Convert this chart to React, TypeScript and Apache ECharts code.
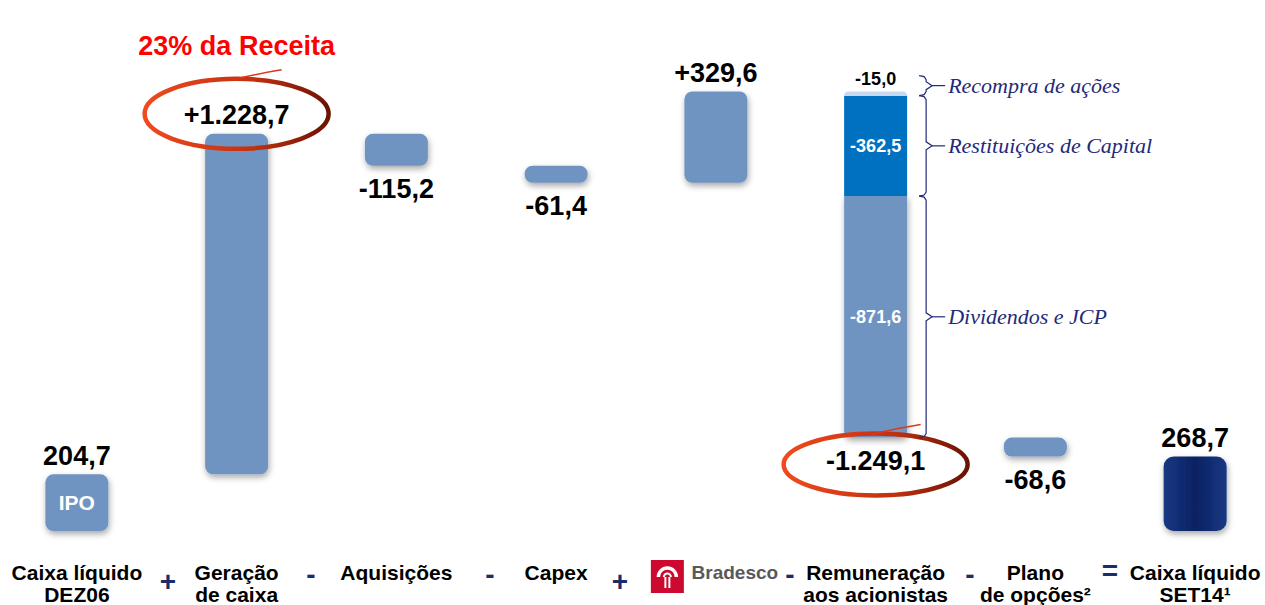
import React, { useEffect, useRef } from "react";
import * as echarts from "echarts";

// ---------- data ----------
const categories = [
  "Caixa líquido\nDEZ06",
  "Geração\nde caixa",
  "Aquisições",
  "Capex",
  "Bradesco",
  "Remuneração\naos acionistas",
  "Plano\nde opções²",
  "Caixa líquido\nSET14¹",
];
const startValue = 204.7;
const changes = [1228.7, -115.2, -61.4, 329.6, -1249.1, -68.6];
const endValue = 268.7;
const remuneracaoParts = [-871.6, -362.5, -15.0];
const remuneracaoNames = ["Dividendos e JCP", "Restituições de Capital", "Recompra de ações"];
const operators = ["+", "-", "-", "+", "-", "-", "="];
const startNote = "IPO";
const highlightNote = "23% da Receita";
const highlightIndex = 1;
const circledIndexes = [1, 5];
const splitIndex = 5;

// ---------- helpers ----------
function fmt(v: number, signed: boolean): string {
  const abs = Math.abs(v);
  const [i, d] = abs.toFixed(1).split(".");
  const ip = i.replace(/\B(?=(\d{3})+(?!\d))/g, ".");
  const s = v < 0 ? "-" : signed ? "+" : "";
  return s + ip + "," + d;
}

const FONT = '"Liberation Sans", Arial, Helvetica, sans-serif';
const STEEL = "#7094C2";
const BLUE = "#0070C0";
const LIGHT = "#C6D9F1";
const NAVY = "#1B2B6B";
const OFFSET_X = -3; // chart div left offset on the page
const shadow = { shadowBlur: 6, shadowColor: "rgba(0,0,0,0.35)", shadowOffsetX: 1, shadowOffsetY: 3 };
const valueLabel = { color: "#000", fontSize: 27, fontWeight: "bold", fontFamily: FONT, opacity: 1 };

// waterfall geometry from the data
const n = categories.length;
const baseData: any[] = new Array(n).fill("-");
const mainData: any[] = new Array(n).fill("-");
const labelPoints: any[] = [];
const levels: number[] = [startValue];
let running = startValue;
mainData[0] = {
  value: startValue,
  itemStyle: { color: STEEL, borderRadius: 8, ...shadow },
  label: { show: true, position: "inside", formatter: startNote, color: "#fff", fontSize: 21, fontWeight: "bold", fontFamily: FONT },
};
labelPoints.push({ value: [0, startValue], label: { ...valueLabel, position: "top", distance: 5, formatter: fmt(startValue, false) } });
changes.forEach((c, k) => {
  const idx = k + 1;
  const next = running + c;
  const low = Math.min(running, next);
  const high = Math.max(running, next);
  baseData[idx] = low;
  if (idx !== splitIndex) {
    mainData[idx] = { value: Math.abs(c), itemStyle: { color: STEEL, borderRadius: 8, ...shadow } };
  }
  labelPoints.push(
    c >= 0
      ? { value: [idx, high], label: { ...valueLabel, position: "top", distance: 5, formatter: fmt(c, true) } }
      : { value: [idx, low], label: { ...valueLabel, position: "bottom", distance: 10, formatter: fmt(c, true) } }
  );
  running = next;
  levels.push(running);
});
mainData[n - 1] = {
  value: endValue,
  itemStyle: {
    borderRadius: 10,
    ...shadow,
    color: new echarts.graphic.LinearGradient(0, 0, 1, 0, [
      { offset: 0, color: "#173882" },
      { offset: 0.5, color: "#0B2262" },
      { offset: 1, color: "#173882" },
    ]),
  },
};
labelPoints.push({ value: [n - 1, endValue], label: { ...valueLabel, position: "top", distance: 5, formatter: fmt(endValue, false) } });

const partColors = [STEEL, BLUE, LIGHT];
const partRadius: any[] = [[0, 0, 6, 6], 0, [5, 5, 0, 0]];
const partLabelColors = ["#fff", "#fff", "#000"];
const partSeries = remuneracaoParts.map((p, j) => {
  const data: any[] = new Array(n).fill("-");
  data[splitIndex] = Math.abs(p);
  return {
    type: "bar",
    name: remuneracaoNames[j],
    stack: "w",
    barWidth: 63,
    data,
    itemStyle: { color: partColors[j], borderRadius: partRadius[j], ...(j === 0 ? shadow : {}) },
    label: {
      show: true,
      position: j === 2 ? "top" : "inside",
      distance: 3,
      formatter: fmt(p, false),
      color: partLabelColors[j],
      fontSize: 18,
      fontWeight: "bold",
      fontFamily: FONT,
    },
  };
});

export default function App() {
  const ref = useRef<HTMLDivElement>(null);
  useEffect(() => {
    const chart = echarts.init(ref.current!, null, { renderer: "svg" });
    const option: any = {
      animation: false,
      grid: { left: 0, right: 0, top: 60, bottom: 69 },
      xAxis: {
        type: "category",
        data: categories,
        axisLine: { show: false },
        axisTick: { show: false },
        axisLabel: {
          interval: 0,
          margin: 30,
          fontSize: 21,
          lineHeight: 22,
          fontWeight: "bold",
          color: "#000",
          fontFamily: FONT,
          formatter: (v: string) => (v === "Bradesco" ? "{b|Bradesco}" : v),
          rich: {
            b: { fontSize: 19, fontWeight: "bold", color: "#58595B", fontFamily: FONT, padding: [0, 0, 0, 38] },
          },
        },
      },
      yAxis: { type: "value", min: 0, max: 1700, show: false, splitLine: { show: false } },
      series: [
        { type: "bar", stack: "w", barWidth: 63, data: baseData, itemStyle: { color: "transparent" }, silent: true },
        { type: "bar", stack: "w", barWidth: 63, data: mainData },
        ...partSeries,
        {
          type: "scatter",
          symbolSize: 0.1,
          itemStyle: { color: "transparent", opacity: 1 },
          data: labelPoints,
          z: 20,
          label: { show: true, ...valueLabel },
        },
      ],
    };
    chart.setOption(option);

    const P = (i: number, v: number) => chart.convertToPixel({ gridIndex: 0 }, [i, v]) as number[];
    const g: any[] = [];
    const swoosh = () =>
      new echarts.graphic.LinearGradient(0, 0, 1, 0, [
        { offset: 0, color: "#F04A1E" },
        { offset: 0.6, color: "#C2300F" },
        { offset: 1, color: "#6A1304" },
      ]);

    // highlight note and circled labels
    const hiTop = P(highlightIndex, levels[highlightIndex])[1];
    const hiX = P(highlightIndex, 0)[0];
    g.push({
      type: "text",
      x: hiX,
      y: hiTop - 88,
      z: 100,
      style: { text: highlightNote, fill: "#FF0000", font: `bold 27px ${FONT}`, align: "center", verticalAlign: "middle" },
    });
    circledIndexes.forEach((ci) => {
      const c = changes[ci - 1];
      const [cx, py] = P(ci, levels[ci]);
      const cy = c >= 0 ? py - 20 : py + 27;
      const rx = 92;
      const ry = c >= 0 ? 35 : 31;
      g.push({
        type: "ellipse",
        z: 100,
        shape: { cx, cy, rx, ry },
        style: { fill: "none", stroke: swoosh(), lineWidth: 4.5 },
      });
      g.push({
        type: "bezierCurve",
        z: 100,
        shape: { x1: cx - 5, y1: cy - ry + 1, x2: cx + 45, y2: cy - ry - 9, cpx1: cx + 20, cpy1: cy - ry - 5 },
        style: { fill: "none", stroke: "#D8391A", lineWidth: 1.5 },
      });
    });

    // braces and annotations for the split bar
    const sx = P(splitIndex, 0)[0];
    const right = sx + 31.5;
    let acc = levels[splitIndex];
    remuneracaoParts.forEach((p, j) => {
      const bottomPx = P(splitIndex, acc)[1];
      acc += Math.abs(p);
      const topPx = P(splitIndex, acc)[1];
      let top = topPx;
      const bottom = bottomPx;
      if (bottom - top < 20) top = bottom - 20;
      const mid = (top + bottom) / 2;
      const hx = right + 12;
      const bx = right + 19;
      const tx = right + 25;
      g.push({
        type: "polyline",
        z: 100,
        shape: {
          points: [
            [hx, top],
            [bx - 2, top + 1],
            [bx, top + 4],
            [bx, mid - 4],
            [tx, mid],
            [bx, mid + 4],
            [bx, bottom - 4],
            [bx - 2, bottom - 1],
            [hx, bottom],
          ],
        },
        style: { fill: "none", stroke: "#1F2A7A", lineWidth: 1.2 },
      });
      g.push({
        type: "line",
        z: 100,
        shape: { x1: tx, y1: mid, x2: right + 38, y2: mid },
        style: { stroke: "#1F2A7A", lineWidth: 1.2 },
      });
      g.push({
        type: "text",
        z: 100,
        x: right + 41,
        y: mid,
        style: {
          text: remuneracaoNames[j],
          fill: "#1F2A7A",
          font: `italic 22px "Liberation Serif", "DejaVu Serif", serif`,
          align: "left",
          verticalAlign: "middle",
        },
      });
    });

    // operators between the category labels (page coordinates)
    const opX = [168, 311, 490, 620, 790, 970, 1110];
    const opY = [581, 574, 574, 581, 574, 574, 570];
    operators.forEach((o, k) => {
      g.push({
        type: "text",
        z: 100,
        x: opX[k] - OFFSET_X,
        y: opY[k],
        style: { text: o, fill: NAVY, font: `bold 28px ${FONT}`, align: "center", verticalAlign: "middle" },
      });
    });

    // Bradesco logo mark next to the axis label
    const bIdx = categories.indexOf("Bradesco");
    const bx0 = P(bIdx, 0)[0] - 65;
    const by0 = 560;
    const lc = bx0 + 16.5;
    g.push({ type: "rect", z: 100, shape: { x: bx0, y: by0, width: 33, height: 33 }, style: { fill: "#CC092F" } });
    g.push({
      type: "arc",
      z: 101,
      shape: { cx: lc, cy: by0 + 17, r: 9, startAngle: Math.PI, endAngle: 2 * Math.PI },
      style: { fill: "none", stroke: "#fff", lineWidth: 3.5 },
    });
    g.push({
      type: "arc",
      z: 101,
      shape: { cx: lc, cy: by0 + 17, r: 3.5, startAngle: Math.PI, endAngle: 2 * Math.PI },
      style: { fill: "none", stroke: "#fff", lineWidth: 2 },
    });
    g.push({ type: "line", z: 101, shape: { x1: lc - 2, y1: by0 + 17, x2: lc - 2, y2: by0 + 28 }, style: { stroke: "#fff", lineWidth: 2 } });
    g.push({ type: "line", z: 101, shape: { x1: lc + 2, y1: by0 + 17, x2: lc + 2, y2: by0 + 28 }, style: { stroke: "#fff", lineWidth: 2 } });

    chart.setOption({ graphic: { elements: g } });
    return () => chart.dispose();
  }, []);
  return (
    <div
      ref={ref}
      style={{ position: "absolute", left: OFFSET_X, top: 0, width: 1278, height: 605, background: "#fff" }}
    />
  );
}
